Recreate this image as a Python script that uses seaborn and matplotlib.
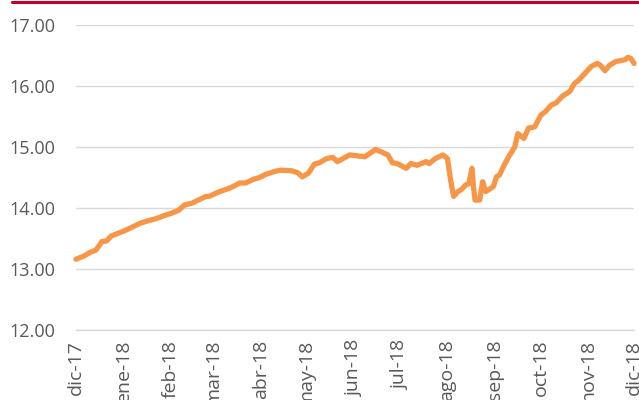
import matplotlib
matplotlib.use("Agg")
import matplotlib.pyplot as plt
from matplotlib.lines import Line2D
import pandas as pd
import seaborn as sns

fechas = [
    "2017-12-01", "2017-12-06", "2017-12-10", "2017-12-14", "2017-12-18",
    "2017-12-21", "2017-12-24", "2017-12-29", "2018-01-02", "2018-01-07",
    "2018-01-12", "2018-01-17", "2018-01-23", "2018-01-27", "2018-02-01",
    "2018-02-06", "2018-02-10", "2018-02-15", "2018-02-19", "2018-02-24",
    "2018-02-26", "2018-03-05", "2018-03-11", "2018-03-16", "2018-03-18",
    "2018-03-22", "2018-03-27", "2018-03-31", "2018-04-04", "2018-04-10",
    "2018-04-14", "2018-04-21", "2018-04-25", "2018-04-28", "2018-05-02",
    "2018-05-06", "2018-05-09", "2018-05-14", "2018-05-18", "2018-05-21",
    "2018-05-29", "2018-06-08", "2018-06-15", "2018-06-23", "2018-06-26",
    "2018-06-29", "2018-07-05", "2018-07-08", "2018-07-12", "2018-07-18",
    "2018-07-20", "2018-07-24", "2018-07-29", "2018-08-01", "2018-08-03",
    "2018-08-05", "2018-08-08", "2018-08-10", "2018-08-13", "2018-08-15",
    "2018-08-17", "2018-08-18", "2018-08-19", "2018-08-22", "2018-08-24",
    "2018-08-26", "2018-08-28", "2018-08-31", "2018-09-02", "2018-09-04",
    "2018-09-07", "2018-09-10", "2018-09-14", "2018-09-16", "2018-09-20",
    "2018-09-23", "2018-09-27", "2018-10-01", "2018-10-04", "2018-10-08",
    "2018-10-11", "2018-10-15", "2018-10-20", "2018-10-23", "2018-10-26",
    "2018-10-30", "2018-11-03", "2018-11-07", "2018-11-09", "2018-11-12",
    "2018-11-15", "2018-11-19", "2018-11-25", "2018-11-27", "2018-11-29",
    "2018-12-01",
]
valores = [
    13.16, 13.21, 13.27, 13.31, 13.45,
    13.46, 13.54, 13.59, 13.63, 13.69,
    13.75, 13.79, 13.83, 13.87, 13.91,
    13.96, 14.05, 14.08, 14.13, 14.19,
    14.19, 14.27, 14.32, 14.38, 14.41,
    14.41, 14.47, 14.50, 14.55, 14.60,
    14.62, 14.61, 14.58, 14.51, 14.57,
    14.72, 14.74, 14.81, 14.83, 14.76,
    14.87, 14.84, 14.96, 14.87, 14.74,
    14.73, 14.65, 14.73, 14.70, 14.76,
    14.73, 14.81, 14.87, 14.81, 14.46,
    14.19, 14.27, 14.30, 14.38, 14.40,
    14.65, 14.35, 14.13, 14.13, 14.43,
    14.27, 14.30, 14.35, 14.51, 14.54,
    14.70, 14.84, 15.00, 15.22, 15.14,
    15.31, 15.33, 15.52, 15.58, 15.69,
    15.72, 15.83, 15.91, 16.04, 16.10,
    16.21, 16.32, 16.37, 16.34, 16.25,
    16.34, 16.40, 16.43, 16.47, 16.45,
    16.37,
]
meses = ["dic-17", "ene-18", "feb-18", "mar-18", "abr-18", "may-18", "jun-18",
         "jul-18", "ago-18", "sep-18", "oct-18", "nov-18", "dic-18"]
niveles = [12, 13, 14, 15, 16, 17]

df = pd.DataFrame({"fecha": pd.to_datetime(fechas), "valor": valores})
inicios_mes = pd.date_range("2017-12-01", "2018-12-01", freq="MS")

sns.set_style("white")
plt.rcParams["font.family"] = ["Open Sans", "DejaVu Sans"]

fig = plt.figure(figsize=(6.39, 4.0), dpi=100)
ax = fig.add_axes([76 / 639, 1 - 330 / 400, (634 - 76) / 639, (330 - 25) / 400])

sns.lineplot(data=df, x="fecha", y="valor", ax=ax, color="#F79646",
             linewidth=3.8, solid_joinstyle="round", solid_capstyle="round",
             clip_on=False, zorder=3)

ax.set_xlim(inicios_mes[0], inicios_mes[-1])
ax.set_ylim(12, 17)
ax.set_yticks(niveles)
ax.set_yticklabels([f"{v:.2f}" for v in niveles])
ax.set_xticks(inicios_mes)
ax.set_xticklabels(meses, rotation=90, va="top", ha="center")
ax.set_xlabel("")
ax.set_ylabel("")

ax.grid(axis="y", color="#D9D9D9", linewidth=1.0)
ax.grid(axis="x", visible=False)
for lado in ["top", "right", "left"]:
    ax.spines[lado].set_visible(False)
ax.spines["bottom"].set_color("#D9D9D9")
ax.spines["bottom"].set_linewidth(1.0)

ax.tick_params(axis="y", length=0, pad=15, labelsize=13, labelcolor="#595959")
ax.tick_params(axis="x", length=4, width=1.0, color="#D9D9D9", pad=3,
               labelsize=14, labelcolor="#595959", direction="out")

# franja roja superior
fig.add_artist(Line2D([12 / 639, 1.0], [1 - 1.5 / 400, 1 - 1.5 / 400],
                      color="#C0002B", linewidth=2.2, transform=fig.transFigure))

fig.savefig("out.png", dpi=100, facecolor="white")
